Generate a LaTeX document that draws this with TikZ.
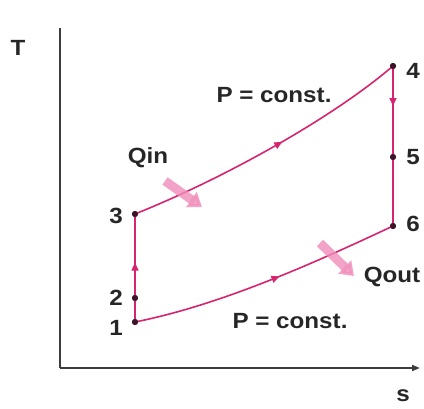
\documentclass[tikz,border=0pt]{standalone}
\usepackage{fontspec}
\setmainfont[FakeStretch=1.1]{Liberation Sans}
\usetikzlibrary{arrows.meta,decorations.markings,fadings}
\definecolor{cyc}{RGB}{214,36,112}
\definecolor{qarr}{RGB}{240,140,185}
\definecolor{axc}{RGB}{60,60,60}
\definecolor{dotc}{RGB}{60,20,40}
\begin{document}
\begin{tikzpicture}[x=1pt,y=-1pt,
  lbl/.style={font=\fontsize{22}{24}\selectfont\bfseries, text=black!85, inner sep=0pt},
  pt/.style={circle, fill=dotc, inner sep=0pt, minimum size=6pt},
  cycline/.style={draw=cyc, line width=1.6pt},
  midarr/.style={postaction={decorate}, decoration={markings, mark=at position #1 with {\arrow{Triangle[width=7pt,length=8pt]}}}},
  heat/.style={draw=qarr, line width=9pt, opacity=0.8, -{Triangle[width=18pt,length=13pt]}},
  axis/.style={draw=axc, line width=1.8pt}]
\useasboundingbox (0,0) rectangle (424,408);
% axes
\coordinate (o) at (60,368);
\coordinate (ytop) at (60,28);
\coordinate (xend) at (420,368);
\draw[axis] (ytop) -- (o);
\draw[axis, -{Triangle[width=6pt,length=8pt]}] (o) -- (xend);
\node[lbl] (T) at (18,48) {T};
\node[lbl] (s) at (403,396) {s};
% state points
\node[pt] (p1) at (135,322) {};
\node[pt] (p2) at (135,298) {};
\node[pt] (p3) at (135,214) {};
\node[pt] (p4) at (393,66) {};
\node[pt] (p5) at (393,157) {};
\node[pt] (p6) at (393,226) {};
% cycle
\draw[cycline, midarr=0.55, cyc] (p1.center) -- (p3.center);
\draw[cycline, midarr=0.55, cyc] (p3.center) .. controls (220,180) and (330,120) .. (p4.center);
\draw[cycline, midarr=0.25, cyc] (p4.center) -- (p6.center);
\draw[cycline, midarr=0.55, cyc] (p1.center) .. controls (220,305) and (310,265) .. (p6.center);
\node[pt] at (p1) {};
\node[pt] at (p2) {};
\node[pt] at (p3) {};
\node[pt] at (p4) {};
\node[pt] at (p5) {};
\node[pt] at (p6) {};
% heat arrows
\coordinate (qin0) at (165,181);
\coordinate (qin1) at (202,207);
\coordinate (qout0) at (320,243);
\coordinate (qout1) at (354,276);
\draw[heat] (qin0) -- (qin1);
\draw[heat] (qout0) -- (qout1);
% labels
\node[lbl] (l1) at (116,328) {1};
\node[lbl] (l2) at (116,298) {2};
\node[lbl] (l3) at (116,216) {3};
\node[lbl] (l4) at (413,71) {4};
\node[lbl] (l5) at (413,157) {5};
\node[lbl] (l6) at (413,224) {6};
\node[lbl] (ptop) at (274,95) {P = const.};
\node[lbl] (pbot) at (290,321) {P = const.};
\node[lbl] (qin) at (148,158) {Qin};
\node[lbl] (qout) at (392,277) {Qout};
\end{tikzpicture}
\end{document}
